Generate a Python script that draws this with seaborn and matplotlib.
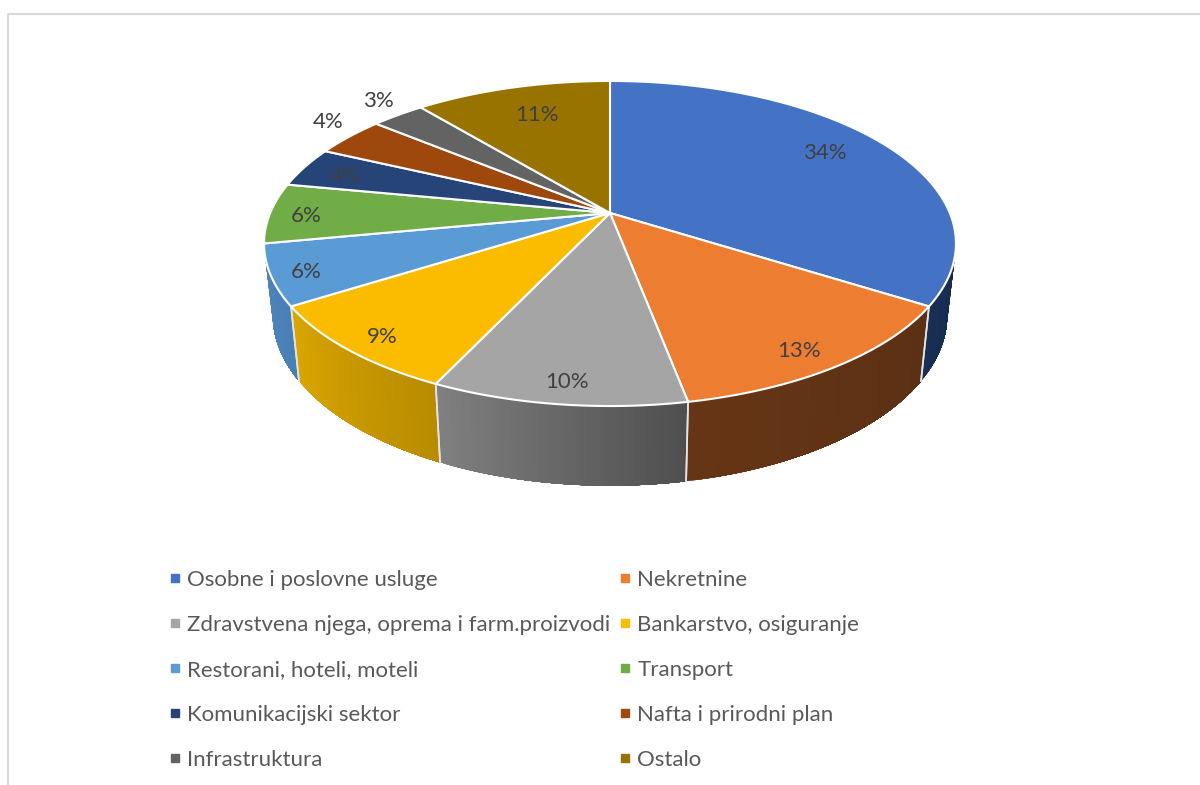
import numpy as np
import matplotlib
matplotlib.use("Agg")
import matplotlib.pyplot as plt
from matplotlib.colors import to_rgb
from matplotlib.lines import Line2D
import seaborn as sns

categories = ["Osobne i poslovne usluge", "Nekretnine",
              "Zdravstvena njega, oprema i farm.proizvodi", "Bankarstvo, osiguranje",
              "Restorani, hoteli, moteli", "Transport",
              "Komunikacijski sektor", "Nafta i prirodni plan",
              "Infrastruktura", "Ostalo"]
shares = [34, 13, 10, 9, 6, 6, 4, 4, 3, 11]
top_colors = ["#4472C4", "#ED7D31", "#A5A5A5", "#FBBC00", "#5B9BD5",
              "#70AD47", "#264478", "#9E480E", "#636363", "#997300"]
# wall shading at the left and right end of the visible wall of each slice
wall_left = ["#1A2F55", "#663515", "#808080", "#D9A600", "#4F86BC",
             "#5F9339", "#1F3966", "#803A0B", "#555555", "#7F6000"]
wall_right = ["#162A4E", "#5B3015", "#4F4F4F", "#B98B00", "#4A7FB5",
              "#5F9339", "#1F3966", "#803A0B", "#555555", "#7F6000"]
# label placement: radial position within the slice, then a pixel nudge
label_radii = [0.62, 0.70, 0.86, 0.78, 0.92, 0.88, 0.78, 1.14, 1.13, 0.75]
label_nudges = [(40, -16), (39, 36), (1, 10), (-31, 21), (7, 2),
                (-5, 3), (-24, -1), (12, -5), (4, -3), (3, 0)]

sns.set_theme(style="white")
plt.rcParams["font.family"] = ["Lato", "DejaVu Sans"]

W, H = 1200, 785
fig = plt.figure(figsize=(W / 100, H / 100), dpi=100, facecolor="white")
ax = fig.add_axes([0, 0, 1, 1])
ax.set_xlim(0, W)
ax.set_ylim(H, 0)
ax.axis("off")

# perspective disc: the centre of the pie sits above the middle of the ellipse
CX, CY, A, B, P = 610.0, 213.0, 339.8, 156.8, 0.1877
VIS0 = np.arccos(-P) / (2 * np.pi)   # the wall is only visible between these fractions
VIS1 = 1 - VIS0


def project(frac):
    t = 2 * np.pi * np.asarray(frac, dtype=float)
    X, Y = np.sin(t), -np.cos(t)
    w = 1 - P * Y
    return CX + A * X / w, CY + B * Y / w


def lower(x, y):
    return CX + (x - CX) * 0.975, CY + (y - CY) * 1.05 + 70


edges = np.concatenate([[0], np.cumsum(shares)]) / 100.0
TXT = "#404040"

# side walls: nested polygons from left to right give a seamless gradient
for i in range(len(shares)):
    f0, f1 = max(edges[i], VIS0), min(edges[i + 1], VIS1)
    if f1 <= f0:
        continue
    fr = np.linspace(f1, f0, 70)  # left to right
    x, y = project(fr)
    xl, yl = lower(x, y)
    c0, c1 = np.array(to_rgb(wall_left[i])), np.array(to_rgb(wall_right[i]))
    for j in range(len(fr) - 1):
        s = j / (len(fr) - 2)
        ax.fill(np.r_[x[j:], xl[j:][::-1]], np.r_[y[j:], yl[j:][::-1]],
                color=c0 + (c1 - c0) * s, lw=0, zorder=2 + 0.001 * j)
    if f0 == edges[i]:
        ax.plot([x[-1], xl[-1]], [y[-1], yl[-1]], color="#E4E4E4", lw=1.2, zorder=3)
    if f1 == edges[i + 1]:
        ax.plot([x[0], xl[0]], [y[0], yl[0]], color="#E4E4E4", lw=1.2, zorder=3)

# top face
for i in range(len(shares)):
    fr = np.linspace(edges[i], edges[i + 1], 120)
    x, y = project(fr)
    ax.fill(np.r_[CX, x], np.r_[CY, y], facecolor=top_colors[i], edgecolor="white",
            lw=1.5, joinstyle="round", zorder=4)

# labels, positioned along the middle of each slice
for i, share in enumerate(shares):
    t = 2 * np.pi * (edges[i] + edges[i + 1]) / 2
    X, Y = label_radii[i] * np.sin(t), -label_radii[i] * np.cos(t)
    w = 1 - P * Y
    dx, dy = label_nudges[i]
    ax.text(CX + A * X / w + dx, CY + B * Y / w + dy, f"{share}%", color=TXT, fontsize=16,
            ha="center", va="center", zorder=6)

# legend: two columns filled row by row
order = [0, 2, 4, 6, 8, 1, 3, 5, 7, 9]
handles = [Line2D([], [], ls="", marker="s", ms=5.8, color=top_colors[i]) for i in order]
leg = ax.legend(handles, [categories[i] for i in order], ncol=2, frameon=False,
                fontsize=16.05, labelcolor="#595959", loc="upper left",
                bbox_to_anchor=(163.5 / W, 1 - 570 / H), bbox_transform=fig.transFigure,
                handletextpad=0.05, handlelength=1.0, columnspacing=0.16,
                labelspacing=1.124, borderpad=0, borderaxespad=0)

# chart frame clipped by the crop
ax.plot([8, 8, 1200], [785, 13.5, 13.5], color="#D9D9D9", lw=1.5, zorder=1)

fig.savefig("out.png", dpi=100)
